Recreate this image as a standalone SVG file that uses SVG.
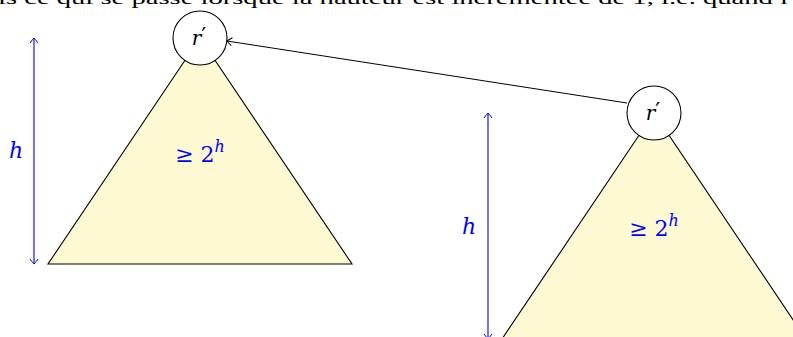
<svg xmlns="http://www.w3.org/2000/svg" width="793" height="337" viewBox="0 0 793 337">
<style>
.tri{fill:#fdf9d3;stroke:#000;stroke-width:1.1}
.node{fill:#fff;stroke:#000;stroke-width:1.1}
.dim{stroke:#0000ff;stroke-width:1.1;fill:none}
.conn{stroke:#000;stroke-width:1;fill:none}
.m{font-family:"DejaVu Serif",serif;font-style:italic}
.n{font-family:"DejaVu Serif",serif}
.p{font-family:"DejaVu Sans",sans-serif;font-style:normal}
</style>
<defs>
<marker id="ab" viewBox="-6 -5 8 10" refX="0" refY="0" markerWidth="8" markerHeight="10" markerUnits="userSpaceOnUse" orient="auto-start-reverse">
<path d="M-5,-4 Q-1,-1 0,0 Q-1,1 -5,4" fill="none" stroke="#0000ff" stroke-width="1"/>
</marker>
<marker id="ak" viewBox="-6 -5 8 10" refX="0" refY="0" markerWidth="8" markerHeight="10" markerUnits="userSpaceOnUse" orient="auto">
<path d="M-5,-4 Q-1,-1 0,0 Q-1,1 -5,4" fill="none" stroke="#000" stroke-width="1"/>
</marker>
</defs>
<text x="-2" y="4" font-family="Liberation Serif, serif" font-size="17" fill="#000" textLength="790" lengthAdjust="spacingAndGlyphs">is ce qui se passe lorsque la hauteur est incrémentée de 1, i.e. quand l</text>
<g id="tree1">
<polygon class="tri" points="200,38 48,264 352,264"/>
<text class="n" x="200" y="162" text-anchor="middle" font-size="22" fill="#0000ff">≥ 2<tspan class="m" font-size="16" dy="-10">h</tspan></text>
</g>
<g id="tree2">
<polygon class="tri" points="654,113 502,339 806,339"/>
<text class="n" x="654" y="236" text-anchor="middle" font-size="22" fill="#0000ff">≥ 2<tspan class="m" font-size="16" dy="-10">h</tspan></text>
</g>
<g id="dim1">
<line class="dim" x1="34" y1="38" x2="34" y2="264" marker-start="url(#ab)" marker-end="url(#ab)"/>
<text class="m" x="16" y="158" text-anchor="middle" font-size="22" fill="#0000ff">h</text>
</g>
<g id="dim2">
<line class="dim" x1="488" y1="113" x2="488" y2="339" marker-start="url(#ab)" marker-end="url(#ab)"/>
<text class="m" x="469" y="234" text-anchor="middle" font-size="22" fill="#0000ff">h</text>
</g>
<g id="connectors">
<line class="conn" x1="627" y1="103" x2="227" y2="41" marker-end="url(#ak)"/>
</g>
<g id="node1">
<circle class="node" cx="200" cy="38" r="27"/>
<text class="m" x="199" y="45" text-anchor="middle" font-size="20" fill="#000">r<tspan class="p" font-size="22" dy="-2">′</tspan></text>
</g>
<g id="node2">
<circle class="node" cx="654" cy="113" r="27"/>
<text class="m" x="653" y="120" text-anchor="middle" font-size="20" fill="#000">r<tspan class="p" font-size="22" dy="-2">′</tspan></text>
</g>
</svg>
